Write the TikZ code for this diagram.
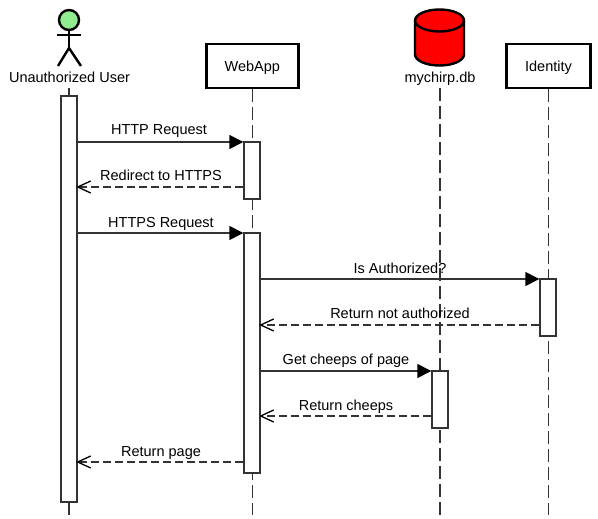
\documentclass[tikz,border=0pt]{standalone}
\usepackage{fontspec}
\setmainfont{Liberation Sans}
\usetikzlibrary{arrows.meta,shapes.geometric,calc}
\definecolor{ln}{HTML}{333333}
\definecolor{lightgreen}{HTML}{90EE90}
\tikzset{
 x=1pt,y=-1pt,
 head box/.style={draw=black,line width=2.6pt,fill=white,minimum width=#1,minimum height=44pt,inner sep=0pt,text height=12pt,text depth=0pt,font=\fontsize{14.5}{16}\selectfont},
 bar/.style={draw=ln,line width=1.4pt,fill=white,minimum width=16pt,minimum height=#1,inner sep=0pt},
 life/.style={draw=ln,line width=1.4pt,dash pattern=on 13pt off 5pt},
 sync/.style={draw=ln,line width=1.4pt,-{Triangle[length=14pt,width=14pt,fill=black,color=black]}},
 reply/.style={draw=ln,line width=1.4pt,dash pattern=on 8pt off 4pt},
 opentip/.style={draw=black,line width=1.3pt,solid},
 msg/.style={font=\fontsize{14.5}{16}\selectfont,text=black,inner sep=0pt,anchor=base},
 who/.style={font=\fontsize{14.5}{16}\selectfont,text=black,inner sep=0pt,anchor=base},
 limb/.style={draw=black,line width=2.4pt},
}
\newcommand{\openhead}[1]{\draw[opentip] ($(#1)+(13,-6)$) -- (#1) -- ($(#1)+(13,6)$);}
\begin{document}
\begin{tikzpicture}
\useasboundingbox (0,0) rectangle (598,519);
% participants
\node[who] (userlabel) at (69.5,83) {Unauthorized User};
\node[head box=92pt] (webapp) at (252.3,66) {WebApp};
\node[head box=84pt] (identity) at (548.5,66) {Identity};
\node[who] (dblabel) at (440,83) {mychirp.db};
\coordinate (userend) at (69,515);
\coordinate (webend) at (252,515);
\coordinate (dbend) at (440,515);
\coordinate (idend) at (548,515);
\coordinate (usertop) at (69,88);
\coordinate (dbtop) at (440,88);
% lifelines
\draw[life] (usertop) -- (userend);
\draw[life] (webapp.south) -- (webapp.south |- webend);
\draw[life] (dbtop) -- (dbend);
\draw[life] (identity.south) -- (identity.south |- idend);
% actor
\node[draw=black,line width=2.4pt,fill=lightgreen,circle,minimum size=20pt,inner sep=0pt] (head) at (69,20) {};
\coordinate (hip) at (69,48);
\coordinate (armL) at (57,35);
\coordinate (armR) at (81,35);
\coordinate (legL) at (58,66);
\coordinate (legR) at (81,66);
\draw[limb] (head.south) -- (hip);
\draw[limb] (armL) -- (armR);
\draw[limb] (legL) -- (hip) -- (legR);
% database
\draw[draw=black,line width=2.4pt,fill=red] (415,20.5) -- (415,54.5) arc[start angle=180,end angle=360,x radius=24.5pt,y radius=11pt] -- (464,20.5) arc[start angle=0,end angle=180,x radius=24.5pt,y radius=11pt] -- cycle;
\draw[draw=black,line width=2.4pt] (415,20.5) arc[start angle=180,end angle=360,x radius=24.5pt,y radius=11pt];
% activations
\node[bar=406pt] (ua) at (69,299) {};
\node[bar=57pt] (w1) at (252,170.5) {};
\node[bar=240pt] (w2) at (252,353) {};
\node[bar=57pt] (i1) at (548,307.5) {};
\node[bar=57pt] (d1) at (440,399.5) {};
% messages
\draw[sync] (ua.east |- 0,142) -- (w1.west |- 0,142);
\node[msg] (m1) at (159,135) {HTTP Request};
\draw[reply] (w1.west |- 0,187) -- (ua.east |- 0,187) coordinate (r1);
\openhead{r1}
\node[msg] (m2) at (161,181) {Redirect to HTTPS};
\draw[sync] (ua.east |- 0,233) -- (w2.west |- 0,233);
\node[msg] (m3) at (161,227) {HTTPS Request};
\draw[sync] (w2.east |- 0,279) -- (i1.west |- 0,279);
\node[msg] (m4) at (400,273) {Is Authorized?};
\draw[reply] (i1.west |- 0,325) -- (w2.east |- 0,325) coordinate (r2);
\openhead{r2}
\node[msg] (m5) at (400,318) {Return not authorized};
\draw[sync] (w2.east |- 0,371) -- (d1.west |- 0,371);
\node[msg] (m6) at (346,364) {Get cheeps of page};
\draw[reply] (d1.west |- 0,416) -- (w2.east |- 0,416) coordinate (r3);
\openhead{r3}
\node[msg] (m7) at (346,410) {Return cheeps};
\draw[reply] (w2.west |- 0,462) -- (ua.east |- 0,462) coordinate (r4);
\openhead{r4}
\node[msg] (m8) at (161,456) {Return page};
\end{tikzpicture}
\end{document}
